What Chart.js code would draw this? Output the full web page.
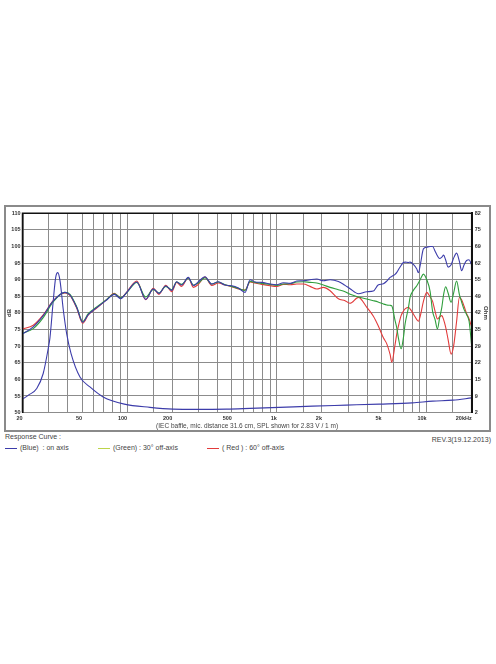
<!DOCTYPE html>
<html>
<head>
<meta charset="utf-8">
<title>Response Curve</title>
<script src="https://cdn.jsdelivr.net/npm/chart.js@4.4.1/dist/chart.umd.min.js"></script>
<style>
  body { margin: 0; background: #fff; font-family: "Liberation Sans", Arial, sans-serif; }
  #frame { position: absolute; left: 4px; top: 205px; width: 483px; height: 223px; border: 2px solid #8a8a8a; }
  .txt { position: absolute; font-size: 7px; line-height: 8px; color: #444; white-space: nowrap; }
  .sw { display: inline-block; width: 12px; height: 1px; vertical-align: middle; margin-right: 3px; }
</style>
</head>
<body>
<div id="frame"><canvas id="myChart"></canvas></div>
<div class="txt" style="left:5px;top:433px">Response Curve :</div>
<div class="txt" style="left:5px;top:444px"><span class="sw" style="background:#3c3caa"></span>(Blue)&nbsp; : on axis</div>
<div class="txt" style="left:98px;top:444px"><span class="sw" style="background:#bcd44a"></span>(Green) : 30° off-axis</div>
<div class="txt" style="left:207px;top:444px"><span class="sw" style="background:#e23b3b"></span>( Red ) : 60° off-axis</div>
<div class="txt" style="right:5px;top:436px">REV.3(19.12.2013)</div>
<script>
// frequency points (Hz) shared by the three SPL curves
var freq = [20, 23.6, 27.5, 32.1, 38.4, 41.5, 46, 50.5, 55, 62.6, 73, 82.1, 90.6, 99.4, 115.9, 133, 149.5, 163, 181, 198.5,
  214, 231, 256, 277, 299, 331, 367, 406, 451, 500, 553, 613, 662, 715, 793, 900, 998, 1105, 1225, 1358,
  1502, 1665, 1847, 2044, 2266, 2574, 2854, 3081, 3502, 3986, 4410, 4741, 5144, 5420, 5702, 5852, 6156, 6320, 6478, 6752,
  6996, 7182, 7554, 7752, 8156, 8598, 8810, 9116, 9518, 10026, 10548, 10962, 11392, 11804, 12210, 12630, 12984, 13388, 13914, 14570,
  15142, 15860, 16556, 17126, 17796, 18494, 19214, 20000];

// SPL in dB
var onAxis = [73.7, 75.8, 79.2, 83.6, 86.2, 85.4, 81.7, 77.2, 79.5, 81.6, 83.9, 85.6, 84.3, 86.2, 89.3, 84.1, 87.2, 85.9, 88.1, 86.8,
  89.4, 88.4, 90.7, 88.2, 89.4, 90.9, 88.7, 89.4, 88.4, 88.2, 87.5, 86.2, 90.0, 89.3, 89.2, 88.7, 88.5, 89.1, 88.9, 89.6,
  89.7, 90.0, 90.2, 89.7, 90.0, 89.5, 88.3, 87.3, 85.8, 86.4, 86.6, 88.4, 88.8, 89.6, 90.7, 91.0, 91.6, 92.2, 93.0, 94.3,
  95.2, 95.3, 95.2, 95.3, 94.6, 93.2, 92.1, 95.0, 99.3, 99.8, 100.0, 100.0, 98.6, 97.2, 96.4, 96.8, 97.4, 96.0, 93.8, 94.5,
  96.5, 98.0, 95.5, 92.7, 94.5, 95.8, 96.0, 94.4];

var offAxis30 = [73.9, 75.3, 78.6, 83.4, 86.2, 85.6, 81.9, 77.4, 79.8, 81.8, 84.1, 85.8, 84.6, 86.1, 89.2, 84.8, 87.1, 86.0, 88.0, 87.0,
  89.3, 88.6, 90.5, 88.4, 89.0, 90.6, 88.7, 89.3, 88.5, 88.0, 87.4, 86.8, 89.5, 89.2, 88.9, 88.6, 88.3, 88.7, 88.8, 89.3,
  89.4, 89.2, 89.0, 88.4, 87.7, 87.0, 86.4, 85.6, 84.8, 84.2, 83.7, 83.3, 82.7, 82.4, 82.3, 82.1, 77.7, 75.5, 72.5, 69.2,
  72.5, 76.7, 81.5, 84.7, 86.8, 88.2, 89.0, 90.3, 91.7, 90.0, 86.5, 80.5, 78.0, 75.2, 78.5, 81.7, 85.5, 87.9, 86.0, 83.2,
  86.0, 89.6, 85.5, 83.3, 81.0, 79.5, 77.5, 70.0];

var offAxis60 = [75.2, 76.3, 79.4, 83.7, 86.0, 85.3, 81.5, 76.9, 79.4, 81.5, 84.0, 85.9, 84.5, 86.3, 89.6, 84.0, 87.4, 85.6, 88.3, 86.4,
  89.2, 88.0, 90.6, 87.7, 88.6, 90.8, 88.3, 89.0, 88.4, 87.9, 87.2, 86.9, 89.3, 89.0, 88.6, 88.2, 88.0, 88.6, 88.5, 88.7,
  88.7, 88.0, 87.2, 87.7, 86.7, 84.3, 83.7, 82.9, 84.7, 81.7, 79.0, 76.2, 72.5, 70.7, 67.5, 65.2, 70.5, 73.7, 76.0, 79.2,
  80.5, 81.2, 81.7, 81.2, 79.7, 78.0, 77.5, 79.5, 83.5, 86.2, 84.8, 83.5, 80.5, 78.2, 78.8, 79.2, 78.0, 75.8, 72.0, 67.6,
  70.0, 77.5, 84.7, 84.0, 82.0, 79.8, 78.2, 75.7];

// impedance curve (Ohm, right axis)
var impFreq = [20, 21.9, 24.9, 27.5, 29.7, 30.5, 32.1, 33.3, 34.4, 35.6, 37.5, 39.5, 42.2, 48.4, 56.4, 69.1, 95.7, 142, 202, 288,
  460, 662, 1036, 1732, 2906, 4834, 8018, 10976, 14968, 20000];
var impOhm = [7.4, 9.0, 11.7, 17.7, 27.7, 32, 47, 56.2, 58.2, 55, 43, 33.5, 25.7, 16.3, 12.3, 8.3, 5.4, 4.1, 3.4, 3.3,
  3.4, 3.7, 4.1, 4.6, 5.0, 5.4, 5.9, 6.6, 7.0, 7.9];

// axis ticks
var gridFreq = [20, 30, 40, 50, 60, 70, 80, 90, 100, 150, 200, 300, 400, 500, 600, 700, 800, 900, 1000, 1500,
  2000, 3000, 4000, 5000, 6000, 7000, 8000, 9000, 10000, 15000, 20000];
var freqLabels = {20: '20', 50: '50', 100: '100', 200: '200', 500: '500', 1000: '1k', 2000: '2k', 5000: '5k', 10000: '10k', 20000: '20kHz'};
var ohmLabels = ['2', '9', '15', '22', '29', '35', '42', '49', '55', '62', '69', '75', '82'];

function toPoints(xs, ys) {
  return xs.map(function (x, i) { return {x: x, y: ys[i]}; });
}

var tickFont = {family: 'Liberation Sans', size: 5.5, weight: 'bold'};
var gridColor = '#8c8c8c';

// black frame on top / left / right of the plot
var plotFrame = {
  id: 'plotFrame',
  afterDraw: function (chart) {
    var ctx = chart.ctx, a = chart.chartArea;
    ctx.save();
    ctx.strokeStyle = '#111';
    ctx.lineWidth = 1.5;
    ctx.beginPath();
    ctx.moveTo(a.left, a.bottom);
    ctx.lineTo(a.left, a.top);
    ctx.lineTo(a.right, a.top);
    ctx.lineTo(a.right, a.bottom);
    ctx.stroke();
    ctx.restore();
  }
};

var lineStyle = {pointRadius: 0, borderWidth: 1.1, fill: false, cubicInterpolationMode: 'monotone'};

const data = {
  datasets: [
    Object.assign({label: 'on axis', data: toPoints(freq, onAxis), borderColor: '#3c3caa', yAxisID: 'y'}, lineStyle),
    Object.assign({label: '30° off-axis', data: toPoints(freq, offAxis30), borderColor: '#2f9e3c', yAxisID: 'y'}, lineStyle),
    Object.assign({label: '60° off-axis', data: toPoints(freq, offAxis60), borderColor: '#e23b3b', yAxisID: 'y'}, lineStyle),
    Object.assign({label: 'impedance', data: toPoints(impFreq, impOhm), borderColor: '#3c3caa', yAxisID: 'y2'}, lineStyle)
  ]
};

const config = {
  type: 'line',
  data: data,
  plugins: [plotFrame],
  options: {
    responsive: true,
    maintainAspectRatio: false,
    animation: false,
    layout: {padding: {top: 5.2, left: 0, right: 0, bottom: 0}},
    plugins: {legend: {display: false}, tooltip: {enabled: false}},
    scales: {
      x: {
        type: 'logarithmic',
        min: 20,
        max: 20000,
        afterBuildTicks: function (s) { s.ticks = gridFreq.map(function (v) { return {value: v}; }); },
        afterFit: function (s) { s.height = 17.4; },
        grid: {color: gridColor, lineWidth: 1, drawTicks: false},
        border: {color: gridColor, width: 1},
        ticks: {
          autoSkip: false, maxRotation: 0, align: 'end', padding: 3,
          font: tickFont, color: '#333',
          callback: function (v) { return freqLabels[v] || ''; }
        },
        title: {
          display: true,
          text: '(IEC baffle, mic. distance 31.6 cm, SPL shown for 2.83 V / 1 m)',
          font: {family: 'Liberation Sans', size: 6.5}, color: '#444',
          padding: {top: 0, bottom: 0}
        }
      },
      y: {
        position: 'left',
        min: 50,
        max: 110,
        afterFit: function (s) { s.width = 16.5; },
        grid: {color: gridColor, lineWidth: 1, drawTicks: false},
        border: {color: '#111', width: 1.5},
        ticks: {stepSize: 5, padding: 2, font: tickFont, color: '#333'},
        title: {display: true, text: 'dB', font: {family: 'Liberation Sans', size: 6, weight: 'bold'}, color: '#333', padding: 0}
      },
      y2: {
        position: 'right',
        min: 2,
        max: 82,
        afterBuildTicks: function (s) { s.ticks = ohmLabels.map(function (t, i) { return {value: 2 + i * 80 / 12}; }); },
        afterFit: function (s) { s.width = 17.3; },
        grid: {display: false, drawTicks: false},
        border: {color: '#111', width: 2},
        ticks: {
          padding: 3, font: tickFont, color: '#333',
          callback: function (v, i) { return ohmLabels[i]; }
        },
        title: {display: true, text: 'Ohm', font: {family: 'Liberation Sans', size: 6, weight: 'bold'}, color: '#333', padding: 0}
      }
    }
  }
};

var myChart = new Chart(document.getElementById('myChart'), config);
</script>
</body>
</html>
